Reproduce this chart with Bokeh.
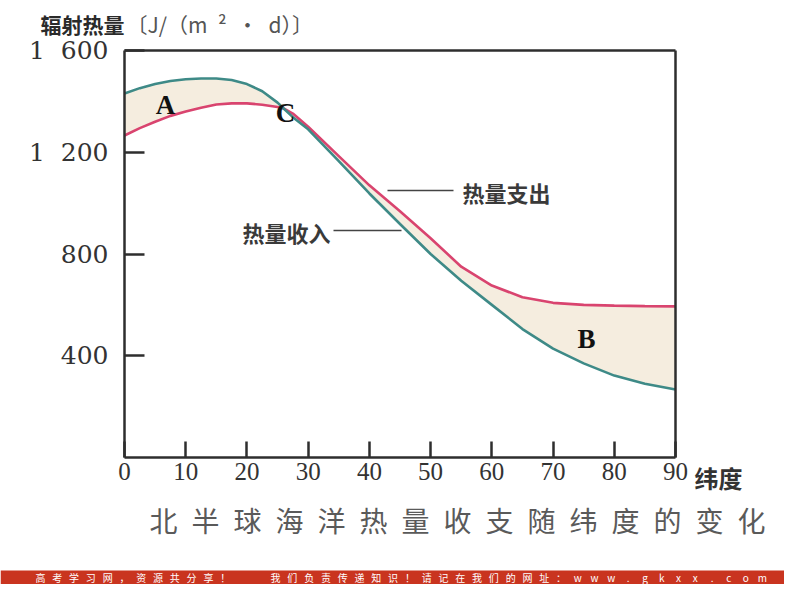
from bokeh.plotting import figure
from bokeh.models import Range1d, FixedTicker, Label, LinearAxis
from bokeh.core.properties import value
from bokeh.embed import file_html
from bokeh.resources import INLINE

# ---------------- data ----------------
latitude = [0, 2.5, 5, 7.5, 10, 12.5, 15, 17.5, 20, 22.5, 25, 26, 27.5,
            30, 35, 40, 45, 50, 55, 60, 65, 70, 75, 80, 85, 90]
heat_income = [1431, 1452, 1468, 1480, 1487, 1490, 1490, 1484, 1468, 1440, 1395, 1372, 1338,
               1290, 1165, 1038, 918, 800, 695, 600, 505, 428, 370, 322, 290, 267]
heat_expense = [1266, 1295, 1320, 1343, 1360, 1375, 1388, 1392, 1392, 1387, 1378, 1372, 1352,
                1300, 1185, 1070, 968, 862, 750, 676, 630, 608, 600, 597, 595, 594]
x_ticks = [0, 10, 20, 30, 40, 50, 60, 70, 80, 90]
y_ticks = [400, 800, 1200, 1600]
y_tick_labels = ["400", "800", "1\u00a0\u00a0200", "1\u00a0\u00a0600"]

y_title_cn = "辐射热量"
y_title_unit = "〔J/（m\u2002²\u2002·\u2002d）〕"
x_title = "纬度"
chart_title = "北半球海洋热量收支随纬度的变化"
label_income = "热量收入"
label_expense = "热量支出"
footer_part1 = "高考学习网，资源共分享！"
footer_part2 = "我们负责传递知识！请记在我们的网址：www.gkxx.com"

# ---------------- layout (pixels of the picture) ----------------
W, H = 784, 584
OFF = 0                      # where the figure's top-left corner lands
BOX_L, BOX_R, BOX_T, BOX_B = 124, 675, 50, 457   # data box in pixels
X0, X1, Y0, Y1 = 0, 90, 0, 1600
sx = (BOX_R - BOX_L) / (X1 - X0)
sy = (BOX_B - BOX_T) / (Y1 - Y0)


def fx(px):
    return X0 + (px - BOX_L) / sx


def fy(py):
    return Y0 + (BOX_B - py) / sy


x_range = Range1d(fx(OFF), fx(OFF + W))
y_range = Range1d(fy(OFF + H), fy(OFF))

p = figure(width=W, height=H, x_range=x_range, y_range=y_range,
           x_axis_type=None, y_axis_type=None,
           output_backend="svg", toolbar_location=None,
           min_border=0)
p.background_fill_color = "white"
p.border_fill_color = "white"
p.grid.visible = False
p.outline_line_color = None

INK = "#2e2e2e"


def make_axis(loc, ticks, bounds):
    ax = LinearAxis(fixed_location=loc, ticker=FixedTicker(ticks=ticks), bounds=bounds)
    ax.axis_line_color = INK
    ax.axis_line_width = 2.5
    ax.minor_tick_line_color = None
    ax.major_tick_out = 0
    ax.major_tick_line_color = INK
    ax.major_tick_line_width = 2.5
    ax.major_label_text_color = "#333333"
    ax.major_label_text_font_size = "25px"
    return ax


xa = make_axis(Y0, x_ticks, (X0, X1))
xa.major_tick_in = 16
xa.major_label_text_font = "Liberation Serif"
xa.major_label_standoff = 5
p.add_layout(xa, "below")

ya = make_axis(X0, y_ticks, (Y0, Y1))
ya.major_tick_in = 20
ya.major_label_overrides = {t: s for t, s in zip(y_ticks, y_tick_labels)}
ya.major_label_text_font = "DejaVu Serif"
ya.major_label_standoff = 16
p.add_layout(ya, "left")

top_ax = make_axis(Y1, [], (X0, X1))
top_ax.major_label_text_font_size = "0px"
p.add_layout(top_ax, "above")
right_ax = make_axis(X1, [], (Y0, Y1))
right_ax.major_label_text_font_size = "0px"
p.add_layout(right_ax, "right")

# band between the curves
p.varea(x=latitude, y1=heat_income, y2=heat_expense, fill_color="#f5eddf")
p.line(latitude, heat_expense, line_color="#d9446f", line_width=2.6)
p.line(latitude, heat_income, line_color="#3e8a87", line_width=2.6)

# pointer lines to the curves
p.segment(x0=[fx(387), fx(333)], y0=[fy(190), fy(230)],
          x1=[fx(453), fx(401)], y1=[fy(190), fy(230)],
          line_color="#444444", line_width=1.6)

CJK = "Noto Sans CJK SC"


def add_label(px, py, text, font, size, color="#222222", style="normal", align="left"):
    p.add_layout(Label(x=fx(px), y=fy(py), text=text, text_font=font, text_font_size=size,
                       text_color=color, text_font_style=style,
                       text_align=align, text_baseline="middle"))


add_label(462, 191, label_expense, CJK, "22px", "#3a3a3a", "bold")
add_label(330, 231, label_income, CJK, "22px", "#3a3a3a", "bold", "right")

add_label(165, 104, "A", "Liberation Serif", "27px", "#111111", "bold", "center")
add_label(285, 112, "C", "Liberation Serif", "27px", "#111111", "bold", "center")
add_label(586, 338, "B", "Liberation Serif", "27px", "#111111", "bold", "center")

add_label(40, 23, y_title_cn, CJK, "21px", "#2a2a2a", "bold")
add_label(126, 23, y_title_unit, CJK, "21px", "#555555")
add_label(694, 477, x_title, CJK, "24px", "#333333", "bold")
add_label(149, 519, "\u2002".join(chart_title), CJK, "28px", "#5a5a5a")

# footer band (squeezed to fit inside the figure)
p.quad(left=[fx(OFF)], right=[fx(OFF + W)], bottom=[fy(OFF + H)], top=[fy(570)],
       fill_color="#c9341f", line_color=None)
chars = list(footer_part1) + ["", ""] + list(footer_part2)
pitch = (762 - 40) / (len(chars) - 1)
fxs = [fx(40 + i * pitch) for i in range(len(chars))]
p.text(x=fxs, y=[fy(577)] * len(chars), text=chars,
       text_font=value(CJK), text_font_size=value("10px"), text_color="white",
       text_align="center", text_baseline="middle")

open("out.html", "w").write(file_html(p, INLINE))
